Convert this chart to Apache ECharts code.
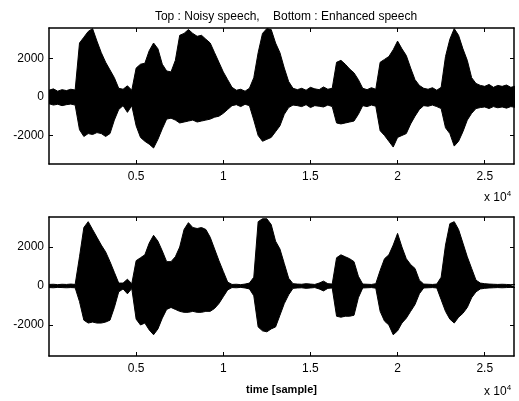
<!doctype html>
<html lang="en">
<head>
<meta charset="UTF-8">
<title>Noisy vs enhanced speech</title>
<script src="https://cdn.jsdelivr.net/npm/echarts@6/dist/echarts.min.js"></script>
<style>
  html, body { margin: 0; padding: 0; background: #fff; }
  #main { width: 519px; height: 401px; }
</style>
</head>
<body>
<div id="main"></div>
<script type="text/javascript">
// envelope of the waveform, one value every STEP samples
var STEP = 250;

var noisyHi = [350, 420, 300, 380, 330, 400, 360, 2800, 3100, 3400,
    3550, 2900, 2300, 1800, 1400, 1000, 450, 400, 580, 350,
    1500, 1700, 1750, 2400, 2800, 2500, 1700, 1350, 1300, 1900,
    3200, 3300, 3500, 3300, 3150, 3200, 3000, 2800, 2300, 1800,
    1300, 900, 500, 350, 400, 300, 450, 1000, 2300, 3300,
    3550, 3500, 2800, 2300, 1500, 800, 450, 380, 450, 350,
    500, 420, 380, 520, 400, 450, 1800, 1900, 1700, 1450,
    1250, 900, 450, 380, 480, 400, 1800, 1950, 2100, 2450,
    2900, 2500, 2150, 1500, 900, 600, 450, 400, 480, 350,
    500, 2100, 3000, 3550, 3200, 2500, 1900, 1000, 700, 600,
    550, 650, 500, 600, 550, 620, 500, 560];

var noisyLo = [-350, -420, -380, -450, -400, -370, -420, -1700, -2050, -1900,
    -1950, -1850, -1900, -2050, -1900, -1200, -650, -450, -800, -450,
    -1500, -2100, -2300, -2450, -2650, -2200, -1650, -1150, -1100, -1200,
    -1350, -1300, -1250, -1200, -1300, -1250, -1200, -1150, -1050, -1000,
    -850, -650, -450, -400, -500, -380, -450, -1200, -2000, -2300,
    -2200, -2100, -1800, -1500, -900, -550, -420, -450, -500, -400,
    -550, -450, -480, -520, -420, -500, -1350, -1400, -1350, -1300,
    -1250, -900, -450, -500, -420, -480, -1750, -2000, -2300, -2600,
    -2100, -2000, -1900, -1400, -1000, -650, -450, -480, -420, -500,
    -600, -1600, -1900, -2550, -2300, -1800, -1200, -850, -600, -550,
    -520, -600, -500, -560, -520, -580, -500, -540];

var enhancedHi = [80, 90, 70, 90, 80, 100, 80, 1500, 3000, 3300,
    2900, 2500, 2100, 1750, 1250, 700, 150, 150, 350, 120,
    1300, 1450, 1600, 2200, 2600, 2300, 1800, 1250, 1250, 1500,
    2000, 2900, 3250, 3000, 2950, 3000, 2900, 2500, 1900, 1300,
    750, 200, 80, 90, 70, 100, 150, 450, 3300, 3450,
    3450, 3150, 2300, 1900, 1150, 400, 120, 100, 90, 120,
    100, 80, 150, 250, 120, 100, 1450, 1600, 1500, 1400,
    1250, 500, 100, 90, 80, 120, 800, 1400, 1600, 2100,
    2700, 2000, 1400, 1100, 900, 300, 100, 90, 80, 100,
    450, 2100, 3200, 3300, 2900, 2200, 1500, 900, 300, 150,
    120, 100, 90, 80, 90, 80, 70, 80];

var enhancedLo = [-80, -90, -70, -80, -90, -80, -90, -800, -1750, -1900,
    -1850, -1900, -1900, -1850, -1750, -1100, -300, -150, -400, -130,
    -1700, -2000, -1900, -2250, -2500, -2200, -1650, -1200, -1100, -1200,
    -1300, -1350, -1350, -1300, -1350, -1350, -1300, -1300, -1150, -900,
    -550, -200, -80, -90, -70, -100, -150, -500, -2100, -2300,
    -2350, -2200, -2100, -1500, -900, -450, -120, -100, -90, -120,
    -100, -80, -150, -250, -120, -100, -1550, -1600, -1550, -1550,
    -1500, -600, -100, -90, -80, -110, -1300, -1800, -2000, -2500,
    -2300, -1900, -1650, -1300, -950, -400, -100, -90, -80, -100,
    -700, -1300, -1700, -1900, -1600, -1400, -1100, -600, -300, -150,
    -120, -100, -90, -80, -90, -80, -70, -80];

var xTicks = [5000, 10000, 15000, 20000, 25000];
var yTicks = [-2000, 0, 2000];
var xMax = 26680;

function toPoints(arr) {
    return arr.map(function (v, i) { return [i * STEP, v]; });
}

var font = 'Liberation Sans, Arial, sans-serif';
var black = '#000';

function xAxisFor(grid, pos, labels, name) {
    return {
        type: 'value', gridIndex: grid, position: pos, min: 0, max: xMax,
        splitLine: { show: false },
        axisLine: { show: true, onZero: false, lineStyle: { color: black, width: 1.5 } },
        axisTick: { show: true, inside: true, length: 4, customValues: xTicks, lineStyle: { color: black } },
        axisLabel: {
            show: labels, customValues: xTicks, margin: 7,
            color: black, fontFamily: font, fontSize: 12,
            formatter: function (v) { return String(v / 10000); }
        },
        name: name || '', nameLocation: 'middle', nameGap: 28,
        nameTextStyle: { color: black, fontFamily: font, fontSize: 11, fontWeight: 'bold' }
    };
}

function yAxisFor(grid, pos, labels, lo, hi) {
    return {
        type: 'value', gridIndex: grid, position: pos, min: lo, max: hi,
        splitLine: { show: false },
        axisLine: { show: true, onZero: false, lineStyle: { color: black, width: 1.5 } },
        axisTick: { show: true, inside: true, length: 4, customValues: yTicks, lineStyle: { color: black } },
        axisLabel: {
            show: labels, customValues: yTicks, margin: 5,
            color: black, fontFamily: font, fontSize: 12,
            formatter: function (v) { return String(v); }
        }
    };
}

function wave(data, xi, yi) {
    return {
        type: 'line', data: toPoints(data), xAxisIndex: xi, yAxisIndex: yi,
        symbol: 'none', silent: true, animation: false,
        lineStyle: { color: black, width: 1 },
        areaStyle: { color: black, opacity: 1 }
    };
}

var myChart = echarts.init(document.getElementById('main'));

var option = {
    backgroundColor: '#fff',
    animation: false,
    title: {
        text: 'Top : Noisy speech,    Bottom : Enhanced speech',
        left: 281, top: 6, textAlign: 'center',
        textStyle: { color: black, fontFamily: font, fontSize: 12, fontWeight: 'normal' }
    },
    grid: [
        { left: 49, top: 28, width: 465, height: 136 },
        { left: 49, top: 217, width: 465, height: 139 }
    ],
    xAxis: [
        xAxisFor(0, 'bottom', true),
        xAxisFor(0, 'top', false),
        xAxisFor(1, 'bottom', true, 'time [sample]'),
        xAxisFor(1, 'top', false)
    ],
    yAxis: [
        yAxisFor(0, 'left', true, -3480, 3580),
        yAxisFor(0, 'right', false, -3480, 3580),
        yAxisFor(1, 'left', true, -3590, 3540),
        yAxisFor(1, 'right', false, -3590, 3540)
    ],
    graphic: [
        {
            type: 'text', left: 484, top: 190,
            style: {
                text: 'x 10{s|4}', fill: black, font: '12px ' + font,
                rich: { s: { fontSize: 8, verticalAlign: 'top', padding: [0, 0, 8, 0] } }
            }
        },
        {
            type: 'text', left: 484, top: 384,
            style: {
                text: 'x 10{s|4}', fill: black, font: '12px ' + font,
                rich: { s: { fontSize: 8, verticalAlign: 'top', padding: [0, 0, 8, 0] } }
            }
        }
    ],
    series: [
        wave(noisyHi, 0, 0),
        wave(noisyLo, 0, 0),
        wave(enhancedHi, 2, 2),
        wave(enhancedLo, 2, 2)
    ]
};

myChart.setOption(option);
</script>
</body>
</html>
